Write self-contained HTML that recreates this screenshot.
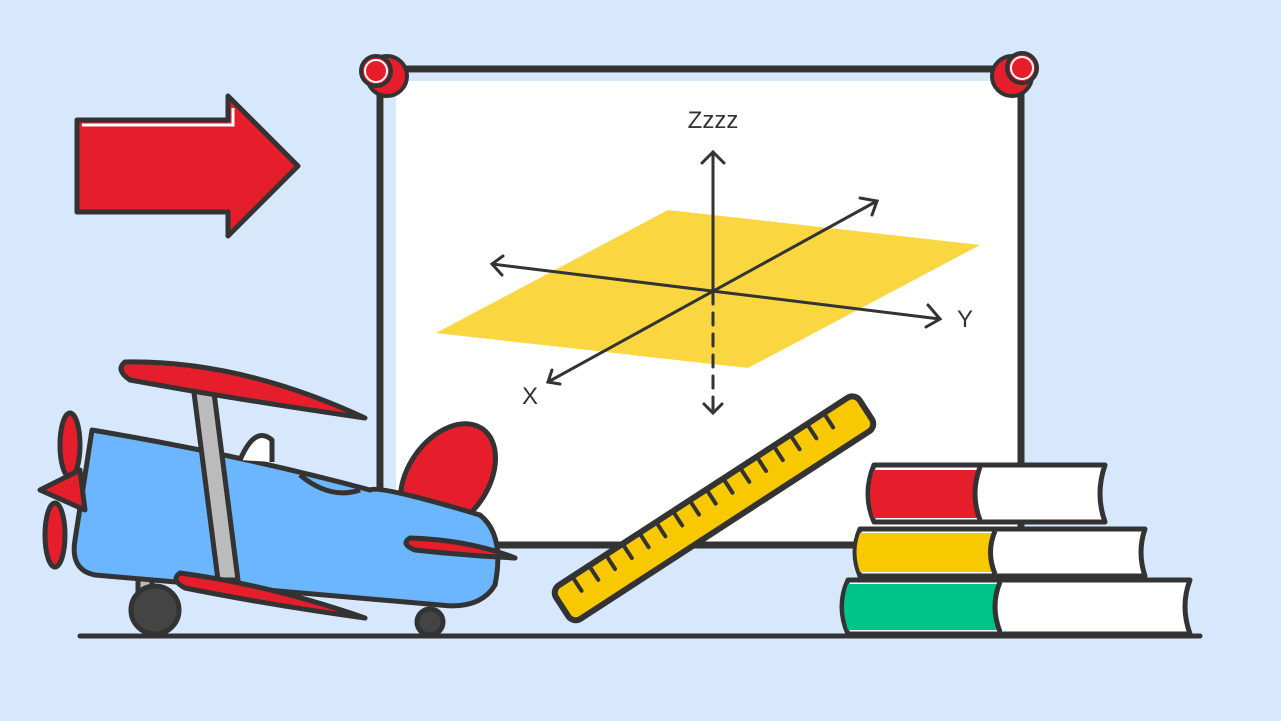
<!DOCTYPE html>
<html><head><meta charset="utf-8"><style>
html,body{margin:0;padding:0;background:#d7e8fd;}
svg{display:block}
text{font-family:"Liberation Sans",sans-serif;fill:#333}
</style></head><body>
<svg width="1281" height="721" viewBox="0 0 1281 721">
<rect width="1281" height="721" fill="#d7e8fd"/>

<g>
<polygon points="77,120 228,120 228,96 298,166 228,236 228,212 77,212" fill="#e61e2b" stroke="#333" stroke-width="5" stroke-linejoin="round"/>
<polyline points="82,125 233,125 233,108" fill="none" stroke="#fff" stroke-width="3"/>
</g>

<g>
<rect x="380" y="69" width="641" height="476" fill="#fff" stroke="#333" stroke-width="7"/>
<rect x="384" y="73" width="12" height="468" fill="#d7e8fd"/>
<rect x="384" y="73" width="633" height="8" fill="#d7e8fd"/>
</g>
<g>
<circle cx="387" cy="76" r="20" fill="#e61e2b" stroke="#333" stroke-width="4"/>
<circle cx="376" cy="71" r="15" fill="#e61e2b" stroke="#333" stroke-width="4"/>
<circle cx="376" cy="71" r="11" fill="none" stroke="#fff" stroke-width="2"/>
</g>
<g>
<circle cx="1012" cy="76" r="20" fill="#e61e2b" stroke="#333" stroke-width="4"/>
<circle cx="1022" cy="68" r="15" fill="#e61e2b" stroke="#333" stroke-width="4"/>
<circle cx="1022" cy="68" r="11" fill="none" stroke="#fff" stroke-width="2"/>
</g>

<g>
<polygon points="668,210 980,245 748,368 436,333" fill="#f8c800" opacity="0.75"/>
<g stroke="#333" stroke-width="3" fill="none" stroke-linecap="round">
<line x1="713" y1="152" x2="713" y2="292"/>
<polyline points="702,163 713,152 724,163"/>
<line x1="713" y1="292" x2="713" y2="412" stroke-dasharray="12,9"/>
<polyline points="704,404 713,413 722,404"/>
<line x1="492" y1="264" x2="940" y2="319"/>
<polyline points="503,256 492,264 502,275"/>
<polyline points="928,305 940,319 926,327"/>
<line x1="548" y1="382" x2="877" y2="201"/>
<polyline points="552,370 548,382 560,384"/>
<polyline points="860,198 877,201 872,215"/>
</g>
<text x="713" y="128" font-size="24" text-anchor="middle">Zzzz</text>
<text x="965" y="327" font-size="24" text-anchor="middle">Y</text>
<text x="530" y="404" font-size="24" text-anchor="middle">X</text>
</g>

<g transform="translate(572,622) rotate(-33)">
<rect x="0" y="-38" width="362" height="40" rx="9" fill="#f8c800" stroke="#333" stroke-width="6"/>
<g stroke="#333" stroke-width="4" stroke-linecap="round">
<line x1="25" y1="-35" x2="25" y2="-21"/><line x1="45" y1="-35" x2="45" y2="-21"/><line x1="65" y1="-35" x2="65" y2="-21"/><line x1="85" y1="-35" x2="85" y2="-21"/><line x1="105" y1="-35" x2="105" y2="-21"/><line x1="125" y1="-35" x2="125" y2="-21"/><line x1="145" y1="-35" x2="145" y2="-21"/><line x1="165" y1="-35" x2="165" y2="-21"/><line x1="185" y1="-35" x2="185" y2="-21"/><line x1="205" y1="-35" x2="205" y2="-21"/><line x1="225" y1="-35" x2="225" y2="-21"/><line x1="245" y1="-35" x2="245" y2="-21"/><line x1="265" y1="-35" x2="265" y2="-21"/><line x1="285" y1="-35" x2="285" y2="-21"/><line x1="305" y1="-35" x2="305" y2="-21"/><line x1="325" y1="-35" x2="325" y2="-21"/>
</g>
</g>

<g stroke="#333" stroke-width="5" stroke-linejoin="round">
<path d="M848,580 H1190 Q1180,606 1190,634 H848 Q836,606 848,580 Z" fill="#fff"/>
<path d="M848,584 H1000 Q992,606 1000,630 H848 Q840,606 848,584 Z" fill="#00c389" stroke="none"/>
<path d="M1000,582 Q990,606 1000,632" fill="none"/>
<path d="M860,529 H1145 Q1137,552 1145,576 H860 Q850,552 860,529 Z" fill="#fff"/>
<path d="M860,533 H995 Q988,552 995,572 H860 Q853,552 860,533 Z" fill="#f8c800" stroke="none"/>
<path d="M995,531 Q986,552 995,574" fill="none"/>
<path d="M874,465 H1105 Q1095,494 1105,522 H874 Q862,494 874,465 Z" fill="#fff"/>
<path d="M874,470 H980 Q972,494 980,518 H874 Q866,494 874,470 Z" fill="#e61e2b" stroke="none"/>
<path d="M980,467 Q970,494 980,520" fill="none"/>
</g>

<line x1="80" y1="636" x2="1200" y2="636" stroke="#333" stroke-width="5" stroke-linecap="round"/>

<g stroke="#333" stroke-width="5" stroke-linejoin="round">
<ellipse cx="448" cy="478" rx="40" ry="60" fill="#e61e2b" transform="rotate(35 448 478)"/>
<rect x="138" y="560" width="14" height="40" fill="#bbb"/>
<circle cx="155" cy="610" r="24" fill="#444"/>
<circle cx="430" cy="622" r="13" fill="#444"/>
<path d="M92,430 Q240,455 370,490 Q380,485 480,515 Q505,535 495,585 Q480,610 440,605 L95,575 Q70,570 75,540 Z" fill="#6bb6ff"/>
<path d="M240,460 Q255,425 272,440 L272,462" fill="#fff"/>
<path d="M300,475 Q330,500 360,490" fill="none"/>
<ellipse cx="70" cy="445" rx="10" ry="32" fill="#e61e2b"/>
<ellipse cx="55" cy="535" rx="10" ry="32" fill="#e61e2b"/>
<path d="M40,490 L80,470 L85,510 Z" fill="#e61e2b"/>
<polygon points="193,385 213,385 238,580 218,580" fill="#bbb"/>
<path d="M125,362 Q240,360 365,418 Q240,400 130,380 Q115,370 125,362 Z" fill="#e61e2b"/>
<path d="M180,573 Q270,585 365,618 Q270,605 185,588 Q170,580 180,573 Z" fill="#e61e2b"/>
<path d="M410,538 Q470,540 515,558 Q460,555 415,550 Q400,544 410,538 Z" fill="#e61e2b"/>
</g>
</svg>
</body></html>
